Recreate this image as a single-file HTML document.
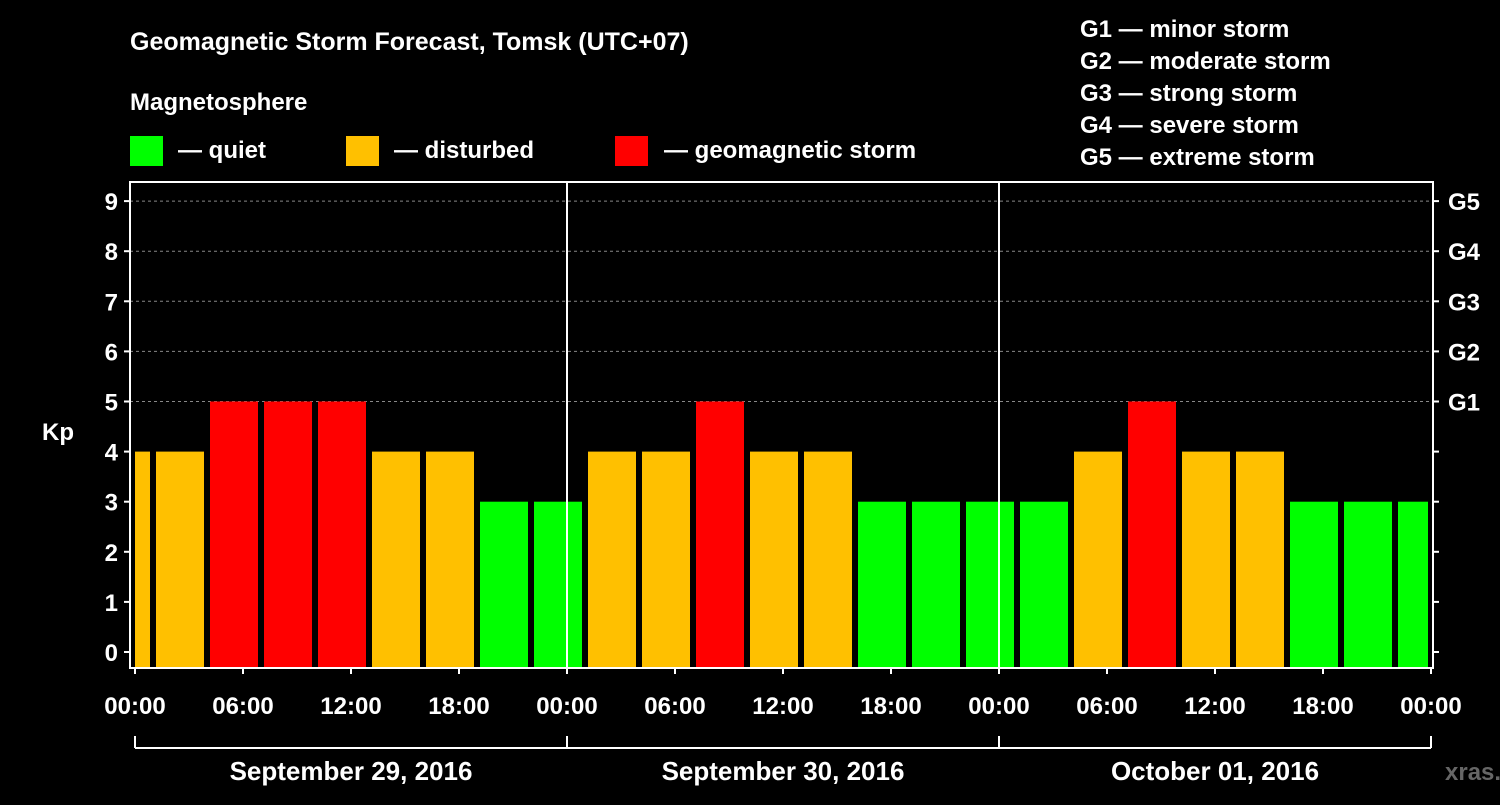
<!DOCTYPE html>
<html><head><meta charset="utf-8"><style>
body{margin:0;background:#000;width:1500px;height:800px;overflow:hidden}
svg text{font-family:"Liberation Sans",Arial,sans-serif;font-weight:bold;fill:#fff}
</style></head><body>
<svg id="c" width="1500" height="800">
<text x="130" y="50" font-size="25">Geomagnetic Storm Forecast, Tomsk (UTC+07)</text>
<text x="130" y="110" font-size="24">Magnetosphere</text>
<rect x="130" y="136" width="33" height="30" fill="#00ff00"/>
<text x="178" y="158" font-size="24">— quiet</text>
<rect x="346" y="136" width="33" height="30" fill="#ffc000"/>
<text x="394" y="158" font-size="24">— disturbed</text>
<rect x="615" y="136" width="33" height="30" fill="#ff0000"/>
<text x="664" y="158" font-size="24">— geomagnetic storm</text>
<g font-size="24">
<text x="1080" y="37">G1 — minor storm</text>
<text x="1080" y="69">G2 — moderate storm</text>
<text x="1080" y="101">G3 — strong storm</text>
<text x="1080" y="133">G4 — severe storm</text>
<text x="1080" y="165">G5 — extreme storm</text>
</g>
<text x="42" y="440" font-size="24">Kp</text>
<text x="1445" y="780" font-size="24" style="fill:#666">xras.ru</text>
<g id="plot"></g>
</svg>
<script>
const kpValues=[4,4,5,5,5,4,4,3,3, 4,4,5,4,4,3,3,3, 3,4,5,4,4,3,3,3];
const firstBarHour=-2;
const yTicks=[0,1,2,3,4,5,6,7,8,9];
const gLabels=["G1","G2","G3","G4","G5"];
const gLevels=[5,6,7,8,9];
const xTickLabels=["00:00","06:00","12:00","18:00"];
const dayLabels=["September 29, 2016","September 30, 2016","October 01, 2016"];
const NS="http://www.w3.org/2000/svg";
const L=130,R=1433,T=182,B=668,X0=135,PXH=18;
const xs=h=>X0+h*PXH, ys=v=>652-v*50.1;
const g=document.getElementById('plot');
function el(t,a,p){const e=document.createElementNS(NS,t);for(const k in a)e.setAttribute(k,a[k]);(p||g).appendChild(e);return e;}
// grid
gLevels.forEach(v=>{const l=el('line',{x1:L,x2:R,y1:ys(v),y2:ys(v),stroke:'#888','stroke-dasharray':'3,3'});

});
// bars
kpValues.forEach((v,i)=>{const h0=firstBarHour+i*3;let x1=xs(h0)+3,x2=xs(h0+3)-3;x1=Math.max(x1,L+5);x2=Math.min(x2,R-5);
const r=el('rect',{x:x1,y:ys(v),width:x2-x1,height:ys(0)-ys(v)+16,fill:v>=5?'#ff0000':v>=4?'#ffc000':'#00ff00'});

});
// day separators
[1,2].forEach(d=>{const l=el('line',{x1:xs(24*d),x2:xs(24*d),y1:T,y2:B,stroke:'#fff','stroke-width':2});

});
// frame
const f=el('rect',{x:L,y:T,width:R-L,height:B-T,fill:'none',stroke:'#fff','stroke-width':2});


// y ticks
yTicks.forEach(v=>{el('line',{x1:L-6,x2:L,y1:ys(v),y2:ys(v),stroke:'#fff','stroke-width':2});
el('line',{x1:R,x2:R+6,y1:ys(v),y2:ys(v),stroke:'#fff','stroke-width':2});
const t=el('text',{x:L-12,y:ys(v)+9,'font-size':24,'text-anchor':'end'});t.textContent=v;

});
gLabels.forEach((s,i)=>{const t=el('text',{x:1448,y:ys(gLevels[i])+9,'font-size':24});t.textContent=s;

});
// x ticks
for(let h=0;h<=72;h+=6){el('line',{x1:xs(h),x2:xs(h),y1:B,y2:B+6,stroke:'#fff','stroke-width':2});
const t=el('text',{x:xs(h),y:714,'font-size':24,'text-anchor':'middle'});t.textContent=xTickLabels[(h/6)%4];

}
// bracket
el('line',{x1:xs(0),x2:xs(72),y1:748,y2:748,stroke:'#fff','stroke-width':2});
for(let d=0;d<=3;d++)el('line',{x1:xs(24*d),x2:xs(24*d),y1:736,y2:748,stroke:'#fff','stroke-width':2});
dayLabels.forEach((s,d)=>{const t=el('text',{x:xs(24*d+12),y:780,'font-size':26,'text-anchor':'middle'});t.textContent=s;

});
</script>
</body></html>
